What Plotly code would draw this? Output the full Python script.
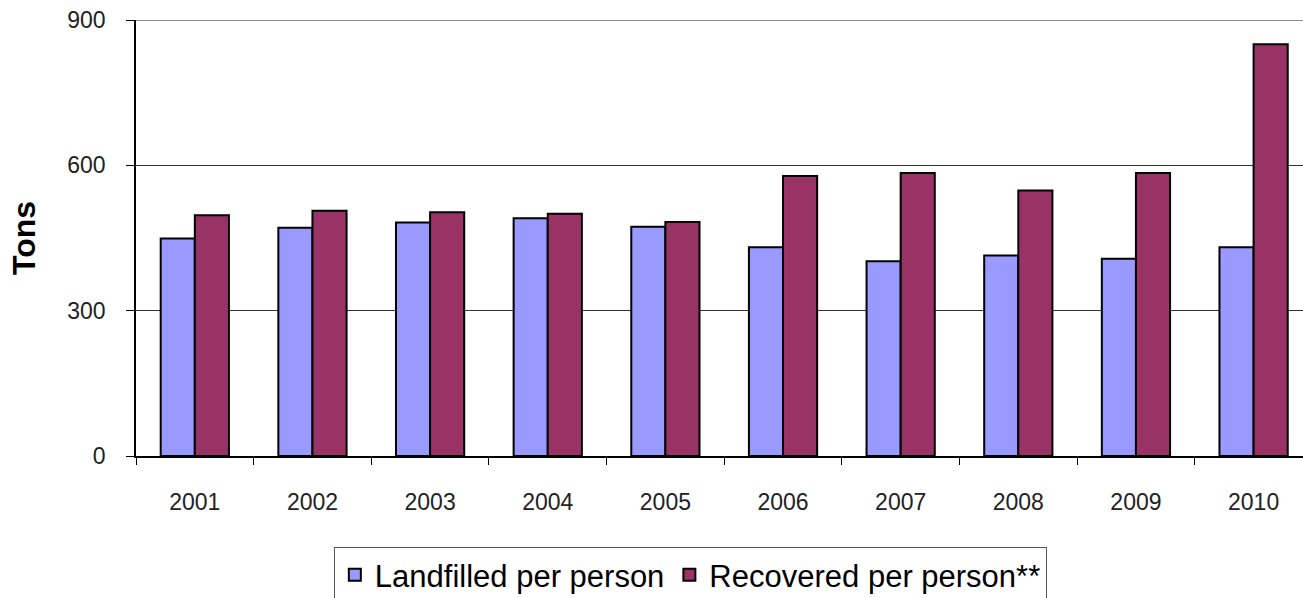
import plotly.graph_objects as go

years = ["2001", "2002", "2003", "2004", "2005", "2006", "2007", "2008", "2009", "2010"]
landfilled = [449, 471, 482, 491, 473, 431, 402, 414, 407, 431]
recovered = [497, 506, 503, 500, 483, 578, 584, 548, 584, 850]
y_ticks = [0, 300, 600, 900]

fig = go.Figure()
fig.add_trace(go.Bar(
    x=years, y=landfilled, name="Landfilled per person",
    marker=dict(color="#9999FF", line=dict(color="#000000", width=2)),
))
fig.add_trace(go.Bar(
    x=years, y=recovered, name="Recovered per person**",
    marker=dict(color="#993366", line=dict(color="#000000", width=2)),
))

# top frame line at the axis maximum, lighter than the gridlines
fig.add_shape(type="line", xref="paper", yref="y", x0=0, x1=1,
              y0=y_ticks[-1], y1=y_ticks[-1],
              line=dict(color="#8a8a8a", width=2))

fig.update_layout(
    width=1303, height=598,
    margin=dict(l=136, r=0, t=20, b=142, autoexpand=False),
    paper_bgcolor="white", plot_bgcolor="white",
    barmode="group", bargap=0.42, bargroupgap=0,
    font=dict(family="Liberation Sans, Arial, sans-serif", color="#222222"),
    showlegend=True,
    legend=dict(
        orientation="h", x=0.475, xanchor="center", y=-0.209, yanchor="top",
        bordercolor="#555555", borderwidth=1,
        font=dict(family="Liberation Sans Narrow, Arial Narrow, Liberation Sans, sans-serif",
                  size=31, color="#000000"),
        itemwidth=30, traceorder="normal",
    ),
)

fig.update_xaxes(
    type="category", range=[-0.5, 9.42], automargin=False,
    showline=True, linecolor="#000000", linewidth=1.5,
    ticks="outside", tickson="boundaries", ticklen=7, tickcolor="#000000",
    tickfont=dict(size=23, color="#222222"), ticklabelstandoff=25,
    showgrid=False,
)
fig.update_yaxes(
    range=[0, 900], tickvals=y_ticks, automargin=False,
    showline=True, linecolor="#000000", linewidth=1.5,
    ticks="outside", ticklen=8, tickcolor="#000000",
    tickfont=dict(size=23, color="#222222"), ticklabelstandoff=16,
    showgrid=True, gridcolor="#333333", gridwidth=1,
    zeroline=False,
    title=dict(text="<b>Tons</b>", font=dict(size=32, color="#000000"), standoff=22),
)

fig.write_html("out.html")
